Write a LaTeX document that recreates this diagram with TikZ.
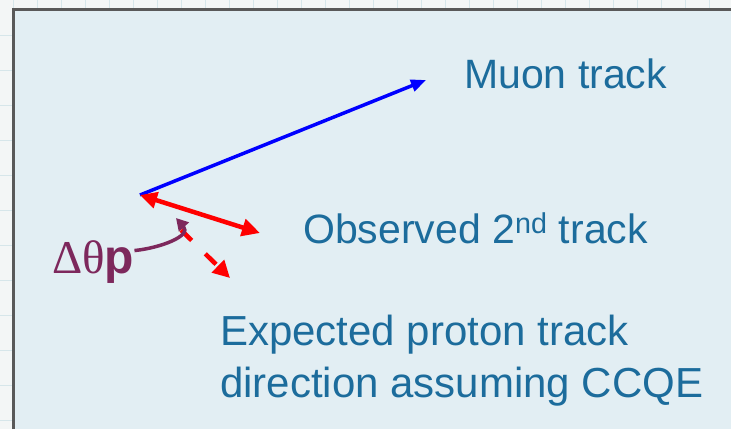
\documentclass[tikz,border=0pt]{standalone}
\usepackage{fontspec}
\setmainfont{Liberation Sans}
\newfontfamily\greekfont{Liberation Serif}
\usetikzlibrary{arrows.meta}
\definecolor{panelbg}{RGB}{226,238,243}
\definecolor{pagebg}{RGB}{243,246,246}
\definecolor{gridln}{RGB}{214,230,234}
\definecolor{labeltxt}{RGB}{28,108,156}
\definecolor{anglecol}{RGB}{125,40,92}
\begin{document}
\begin{tikzpicture}[
  x=1pt,
  y=-1pt,
  font=\fontsize{41}{52}\selectfont,
  tracklabel/.style={anchor=base west, inner sep=0pt, text=labeltxt},
  muonarrow/.style={draw=blue, line width=3.5pt, -{Triangle[length=15pt, width=12pt]}},
  obsarrow/.style={draw=red, line width=4.5pt, {Triangle[length=17pt, width=16pt]}-{Triangle[length=18pt, width=17pt]}},
  exparrow/.style={draw=red, line width=4.5pt, dash pattern=on 15pt off 19pt, -{Triangle[length=17pt, width=17pt]}}
]
\useasboundingbox (0,0) rectangle (731,429);
\fill[pagebg] (0,0) rectangle (731,429);
\foreach \gx in {13,37,...,710} {
  \draw[gridln, line width=0.6pt] (\gx,0) -- (\gx,8);
}
\foreach \gy in {35,70,...,429} {
  \draw[gridln, line width=0.6pt] (0,\gy) -- (12,\gy);
}
% panel with its left and top edges
\fill[panelbg] (13.5,9.5) rectangle (731,429);
\draw[black!65, line width=3pt] (13.5,429) -- (13.5,9.5) -- (731,9.5);

% vertex and track ends
\coordinate (vtx) at (140,195);
\coordinate (muonend) at (426,80);
\coordinate (obsend) at (260,233);
\coordinate (expstart) at (181,230);
\coordinate (expend) at (230,278);

% tracks
\draw[muonarrow] (vtx) -- (muonend);
\draw[obsarrow] (vtx) -- (obsend);
\draw[exparrow] (expstart) -- (expend);

% labels
\node[tracklabel] (muon) at (464,88) {Muon track};
\node[tracklabel] (observed) at (303,243) {Observed 2\textsuperscript{nd} track};
\node[tracklabel, align=left, font=\fontsize{42}{52}\selectfont] (expected) at (220,397)
  {Expected proton track\\direction assuming CCQE};

% opening angle
\node[anchor=base west, inner sep=0pt, text=anglecol] (dtheta) at (52,273)
  {{\greekfont\fontsize{47}{47}\selectfont Δθ}\fontsize{48}{48}\selectfont\textbf{p}};
\draw[anglecol, line width=3.5pt, -{Triangle[length=12pt, width=13pt]}]
  (dtheta.east) ++(0,-11) .. controls (160,248) and (192,236) .. (176,218);
\end{tikzpicture}
\end{document}
